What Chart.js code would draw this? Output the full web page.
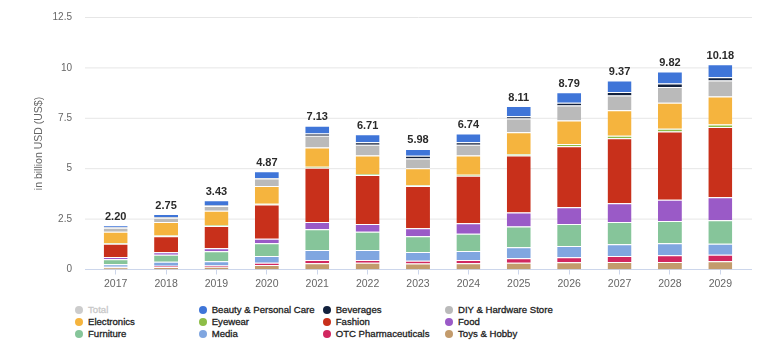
<!DOCTYPE html>
<html>
<head>
<meta charset="utf-8">
<script src="https://cdn.jsdelivr.net/npm/chart.js@4.4.0/dist/chart.umd.min.js"></script>
<style>
  html, body { margin:0; padding:0; background:#fff; }
  body { width:778px; height:357px; position:relative; overflow:hidden; font-family:"Liberation Sans", Arial, sans-serif; }
  #wrap { position:absolute; left:0; top:0; width:778px; height:300px; }
  .li { position:absolute; height:12px; line-height:12px; font-size:9.6px; color:#222; white-space:nowrap; }
  .li .dot { position:absolute; left:0; top:2px; width:8px; height:8px; border-radius:50%; }
  .li .tx { position:absolute; left:13px; top:0; -webkit-text-stroke:0.3px currentColor; }
</style>
</head>
<body>
<div id="wrap"><canvas id="c"></canvas></div>
<div id="legend"></div>
<script>
// ---- data ----
const years = ['2017','2018','2019','2020','2021','2022','2023','2024','2025','2026','2027','2028','2029'];
const totals = [2.20, 2.75, 3.43, 4.87, 7.13, 6.71, 5.98, 6.74, 8.11, 8.79, 9.37, 9.82, 10.18];
const yTickLabels = ['0', '2.5', '5', '7.5', '10', '12.5'];

const beauty      = [0.11, 0.15, 0.25, 0.33, 0.39, 0.40, 0.34, 0.43, 0.51, 0.52, 0.57, 0.59, 0.64];
const beverages   = [0.02, 0.03, 0.03, 0.03, 0.10, 0.12, 0.14, 0.12, 0.11, 0.14, 0.17, 0.18, 0.16];
const diy         = [0.20, 0.21, 0.24, 0.37, 0.59, 0.54, 0.48, 0.54, 0.68, 0.74, 0.73, 0.78, 0.80];
const electronics = [0.56, 0.67, 0.71, 0.88, 0.95, 0.91, 0.84, 0.95, 1.08, 1.16, 1.26, 1.29, 1.39];
const eyewear     = [0.03, 0.04, 0.04, 0.04, 0.05, 0.05, 0.04, 0.05, 0.07, 0.12, 0.13, 0.14, 0.12];
const fashion     = [0.66, 0.80, 1.10, 1.70, 2.69, 2.43, 2.09, 2.35, 2.83, 3.02, 3.22, 3.38, 3.49];
const food        = [0.11, 0.12, 0.16, 0.22, 0.36, 0.39, 0.40, 0.53, 0.70, 0.83, 0.94, 1.05, 1.14];
const furniture   = [0.25, 0.35, 0.49, 0.63, 1.03, 0.90, 0.78, 0.85, 1.03, 1.09, 1.10, 1.11, 1.16];
const media       = [0.12, 0.20, 0.21, 0.33, 0.50, 0.50, 0.43, 0.45, 0.54, 0.56, 0.58, 0.59, 0.55];
const otc         = [0.03, 0.06, 0.06, 0.12, 0.16, 0.14, 0.14, 0.16, 0.22, 0.25, 0.30, 0.34, 0.32];
const toys        = [0.11, 0.12, 0.14, 0.22, 0.31, 0.33, 0.30, 0.31, 0.34, 0.36, 0.37, 0.37, 0.41];

// legend order (alphabetical); stacked bottom-up in reverse
const series = [
  { name: 'Beauty & Personal Care', data: beauty,      color: '#3f75d8' },
  { name: 'Beverages',              data: beverages,   color: '#12213d' },
  { name: 'DIY & Hardware Store',   data: diy,         color: '#bababa' },
  { name: 'Electronics',            data: electronics, color: '#f5b43e' },
  { name: 'Eyewear',                data: eyewear,     color: '#8dbd47' },
  { name: 'Fashion',                data: fashion,     color: '#c8301b' },
  { name: 'Food',                   data: food,        color: '#9a5ac7' },
  { name: 'Furniture',              data: furniture,   color: '#86c59a' },
  { name: 'Media',                  data: media,       color: '#80a6e0' },
  { name: 'OTC Pharmaceuticals',    data: otc,         color: '#d1275f' },
  { name: 'Toys & Hobby',           data: toys,        color: '#c39b6c' }
];

const FONT = '"Liberation Sans", Arial, sans-serif';

const gridPlugin = {
  id: 'gridPlugin',
  beforeDatasetsDraw(chart) {
    const { ctx, scales: { y } } = chart;
    const x0 = 85, x1 = 752;
    ctx.save();
    ctx.lineWidth = 1;
    y.ticks.forEach(t => {
      if (t.value === 0) return;
      const py = y.getPixelForValue(t.value);
      ctx.strokeStyle = '#e6e6e6';
      ctx.beginPath(); ctx.moveTo(x0, py); ctx.lineTo(x1, py); ctx.stroke();
    });
    const p0 = y.getPixelForValue(0);
    ctx.strokeStyle = '#ccd6eb';
    ctx.beginPath(); ctx.moveTo(x0, p0); ctx.lineTo(x1, p0); ctx.stroke();
    ctx.restore();
  }
};

const totalsPlugin = {
  id: 'totalsPlugin',
  afterDatasetsDraw(chart) {
    const { ctx, scales: { x, y } } = chart;
    ctx.save();
    ctx.font = 'bold 11px ' + FONT;
    ctx.fillStyle = '#2b2b2b';
    ctx.textAlign = 'center';
    ctx.textBaseline = 'bottom';
    totals.forEach((v, i) => {
      ctx.fillText(v.toFixed(2), x.getPixelForValue(i), y.getPixelForValue(v) - 3);
    });
    ctx.restore();
  }
};

new Chart(document.getElementById('c'), {
  type: 'bar',
  data: {
    labels: years,
    datasets: series.slice().reverse().map(s => ({
      label: s.name,
      data: s.data,
      backgroundColor: s.color,
      borderColor: '#ffffff',
      borderWidth: { top: 1, left: 0, right: 0, bottom: 0 },
      borderSkipped: false,
      barPercentage: 0.475,
      categoryPercentage: 1.0
    }))
  },
  options: {
    responsive: true,
    maintainAspectRatio: false,
    animation: false,
    layout: { padding: { top: 17.5, right: 32.5, bottom: 0, left: 0 } },
    plugins: { legend: { display: false }, tooltip: { enabled: false } },
    scales: {
      x: {
        stacked: true,
        grid: { display: true, drawOnChartArea: false, drawTicks: true, tickLength: 5, color: '#ccd6eb', offset: false },
        border: { display: false },
        ticks: { color: '#666666', font: { family: FONT, size: 10.5 }, padding: 3, maxRotation: 0 },
        afterFit(scale) { scale.height = 30.5; }
      },
      y: {
        stacked: true,
        min: 0, max: 12.5,
        grid: { display: false, drawTicks: false },
        border: { display: false },
        ticks: {
          stepSize: 2.5,
          color: '#666666',
          font: { family: FONT, size: 10 },
          padding: 18.5,
          callback: (v, i) => yTickLabels[i]
        },
        title: {
          display: true,
          text: 'in billion USD (US$)',
          color: '#666666',
          font: { family: FONT, size: 10.5 },
          padding: { top: 33, bottom: 0 }
        },
        afterFit(scale) { scale.width = 90.5; scale.paddingTop = 0; scale.paddingBottom = 0; }
      }
    }
  },
  plugins: [gridPlugin, totalsPlugin]
});

// ---- HTML legend ----
const legendItems = [{ name: 'Total', color: '#cccccc', muted: true }].concat(series);
const colX = [75, 198.7, 322.7, 445];
const rowY = [304, 316, 328.3];
const leg = document.getElementById('legend');
legendItems.forEach((it, i) => {
  const d = document.createElement('div');
  d.className = 'li';
  d.style.left = colX[i % 4] + 'px';
  d.style.top = rowY[Math.floor(i / 4)] + 'px';
  const dot = document.createElement('span');
  dot.className = 'dot';
  dot.style.background = it.color;
  const tx = document.createElement('span');
  tx.className = 'tx';
  tx.textContent = it.name;
  if (it.muted) tx.style.color = '#c8c8c8';
  d.appendChild(dot); d.appendChild(tx);
  leg.appendChild(d);
});
</script>
</body>
</html>
